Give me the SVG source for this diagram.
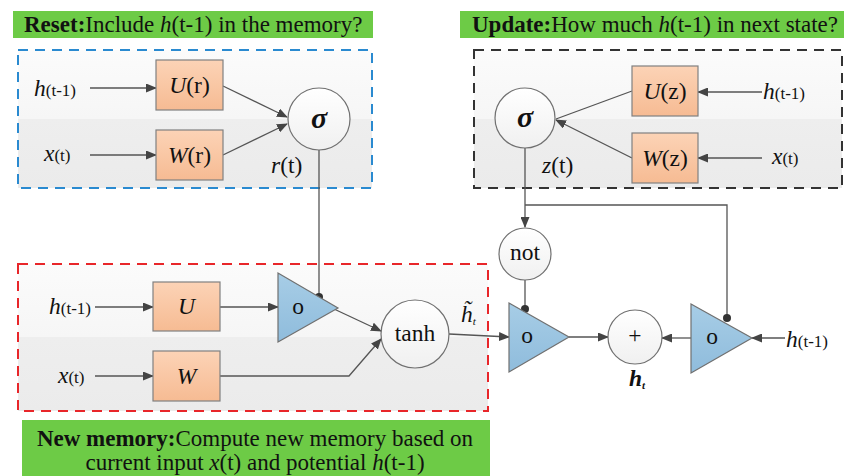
<svg xmlns="http://www.w3.org/2000/svg" width="845" height="476" viewBox="0 0 845 476" font-family="'Liberation Serif','Times New Roman',serif">
<style>
text{font-family:"Liberation Serif","Times New Roman",serif;fill:#111}
.hdr{font-size:23px}
.b{font-weight:bold}
.i{font-style:italic}
.lbl{font-size:23.5px}
.sm{font-size:17px}
.box{fill:url(#peach);stroke:#808080;stroke-width:1.2}
.tri{fill:url(#blue);stroke:#707070;stroke-width:1.2}
.circ{fill:url(#wg);stroke:#707070;stroke-width:1.2}
.green{fill:#6dcb46}
.con{fill:none;stroke:#555;stroke-width:1.3}
.arr{marker-end:url(#ah)}
.dot{fill:#333}
.mid{text-anchor:middle}
</style>
<defs>
<linearGradient id="peach" x1="0" y1="0" x2="0" y2="1"><stop offset="0" stop-color="#fcd3b6"/><stop offset="1" stop-color="#f6bb93"/></linearGradient>
<linearGradient id="blue" x1="0" y1="0" x2="0" y2="1"><stop offset="0" stop-color="#a7cde6"/><stop offset="1" stop-color="#8fbcdc"/></linearGradient>
<linearGradient id="wg" x1="0" y1="0" x2="0" y2="1"><stop offset="0" stop-color="#ffffff"/><stop offset="1" stop-color="#f0f0f0"/></linearGradient>
<linearGradient id="bg" x1="0" y1="0" x2="0" y2="1"><stop offset="0" stop-color="#fbfbfb"/><stop offset="0.5" stop-color="#f6f6f6"/><stop offset="0.5" stop-color="#eeeeee"/><stop offset="1" stop-color="#ebebeb"/></linearGradient>
<marker id="ah" markerUnits="userSpaceOnUse" markerWidth="11" markerHeight="9" refX="10" refY="4.5" orient="auto"><path d="M0,0 L11,4.5 L0,9 z" fill="#444"/></marker>
</defs>

<g id="reset-region">
<rect class="green" x="13" y="11" width="360" height="27"/>
<text class="hdr" x="24" y="32"><tspan class="b">Reset:</tspan>Include <tspan class="i">h</tspan>(t-1) in the memory?</text>
<rect x="18" y="50" width="354" height="138" fill="url(#bg)" stroke="#2a8ad0" stroke-width="2" stroke-dasharray="10,7"/>
</g>
<g id="update-region">
<rect class="green" x="460" y="11" width="384" height="27"/>
<text class="hdr" x="472" y="32"><tspan class="b">Update:</tspan>How much <tspan class="i">h</tspan>(t-1) in next state?</text>
<rect x="474" y="50" width="368" height="138" fill="url(#bg)" stroke="#333" stroke-width="2" stroke-dasharray="10,7"/>
</g>
<g id="newmem-region">
<rect x="18" y="264" width="470" height="147" fill="url(#bg)" stroke="#e8262a" stroke-width="2" stroke-dasharray="10,7"/>
<rect class="green" x="22" y="420" width="468" height="56"/>
<text class="hdr mid" x="255" y="446"><tspan class="b">New memory:</tspan>Compute new memory based on</text>
<text class="hdr mid" x="255" y="470">current input <tspan class="i">x</tspan>(t) and potential <tspan class="i">h</tspan>(t-1)</text>
</g>

<g id="connectors">
<path class="con arr" d="M90,88 H156"/>
<path class="con arr" d="M90,155 H156"/>
<path class="con arr" d="M223,86 L287,117"/>
<path class="con arr" d="M223,155 L287,124"/>
<path class="con" d="M319,150 V297"/>
<path class="con arr" d="M762,92 H698"/>
<path class="con arr" d="M762,158 H698"/>
<path class="con" d="M632,91 L556,119"/>
<path class="con arr" d="M632,158 L556,120"/>
<path class="con arr" d="M525,148 V227"/>
<path class="con" d="M525,205 H727 V318"/>
<path class="con" d="M525,280 V309"/>
<path class="con arr" d="M95,307 H153"/>
<path class="con arr" d="M95,376 H153"/>
<path class="con arr" d="M220,307 H278"/>
<path class="con arr" d="M334,309 L381,331"/>
<path class="con arr" d="M220,376 H349 L381,339"/>
<path class="con arr" d="M449,334 L509,337"/>
<path class="con arr" d="M569,337 H608"/>
<path class="con arr" d="M691,338 H662"/>
<path class="con arr" d="M785,338 H752"/>
<circle class="dot" cx="319" cy="297" r="4"/>
<circle class="dot" cx="525" cy="309" r="4"/>
<circle class="dot" cx="727" cy="318" r="4"/>
</g>

<g id="in-h-reset"><text class="lbl" x="34" y="96"><tspan class="i">h</tspan><tspan class="sm">(t-1)</tspan></text></g>
<g id="in-x-reset"><text class="lbl" x="44" y="161"><tspan class="i">x</tspan><tspan class="sm">(t)</tspan></text></g>
<g id="Ur"><rect class="box" x="156" y="60" width="67" height="50"/><text class="lbl mid" x="189.5" y="93"><tspan class="i">U</tspan>(r)</text></g>
<g id="Wr"><rect class="box" x="156" y="130" width="67" height="50"/><text class="lbl mid" x="189.5" y="163"><tspan class="i">W</tspan>(r)</text></g>
<g id="sigma-r"><circle class="circ" cx="319" cy="119" r="31"/><text class="mid b i" x="319" y="128" font-size="30">σ</text></g>
<g id="rt"><text class="lbl" x="271" y="173"><tspan class="i">r</tspan>(t)</text></g>

<g id="in-h-update"><text class="lbl" x="763" y="99"><tspan class="i">h</tspan><tspan class="sm">(t-1)</tspan></text></g>
<g id="in-x-update"><text class="lbl" x="772" y="164"><tspan class="i">x</tspan><tspan class="sm">(t)</tspan></text></g>
<g id="Uz"><rect class="box" x="632" y="66" width="66" height="50"/><text class="lbl mid" x="665" y="99"><tspan class="i">U</tspan>(z)</text></g>
<g id="Wz"><rect class="box" x="632" y="133" width="66" height="50"/><text class="lbl mid" x="665" y="166"><tspan class="i">W</tspan>(z)</text></g>
<g id="sigma-z"><circle class="circ" cx="525" cy="118" r="30"/><text class="mid b i" x="525" y="127" font-size="30">σ</text></g>
<g id="zt"><text class="lbl" x="542" y="173"><tspan class="i">z</tspan>(t)</text></g>

<g id="not"><circle class="circ" cx="525" cy="254" r="26"/><text class="lbl mid" x="525" y="260">not</text></g>

<g id="in-h-new"><text class="lbl" x="49" y="314"><tspan class="i">h</tspan><tspan class="sm">(t-1)</tspan></text></g>
<g id="in-x-new"><text class="lbl" x="58" y="383"><tspan class="i">x</tspan><tspan class="sm">(t)</tspan></text></g>
<g id="U"><rect class="box" x="153" y="282" width="67" height="49"/><text class="lbl mid i" x="186.5" y="314">U</text></g>
<g id="W"><rect class="box" x="153" y="351" width="67" height="50"/><text class="lbl mid i" x="186.5" y="384">W</text></g>
<g id="mul-r"><polygon class="tri" points="278,273 278,342 338,308"/><text class="lbl mid" x="298" y="314">o</text></g>
<g id="tanh"><circle class="circ" cx="415" cy="334" r="34"/><text class="lbl mid" x="415" y="341">tanh</text></g>
<g id="htilde"><text class="lbl" x="461" y="322"><tspan class="i">h̃</tspan><tspan class="i" font-size="11" dy="3">t</tspan></text></g>

<g id="mul-1mz"><polygon class="tri" points="509,303 509,372 569,337"/><text class="lbl mid" x="527" y="343">o</text></g>
<g id="plus"><circle class="circ" cx="635" cy="337" r="27"/><text class="lbl mid" x="635" y="343">+</text></g>
<g id="ht"><text class="lbl i b" x="629" y="386" fill="#223">h<tspan font-size="11" dy="3">t</tspan></text></g>
<g id="mul-z"><polygon class="tri" points="691,304 691,373 752,338"/><text class="lbl mid" x="712" y="344">o</text></g>
<g id="in-h-out"><text class="lbl" x="786" y="347"><tspan class="i">h</tspan><tspan class="sm">(t-1)</tspan></text></g>
</svg>
